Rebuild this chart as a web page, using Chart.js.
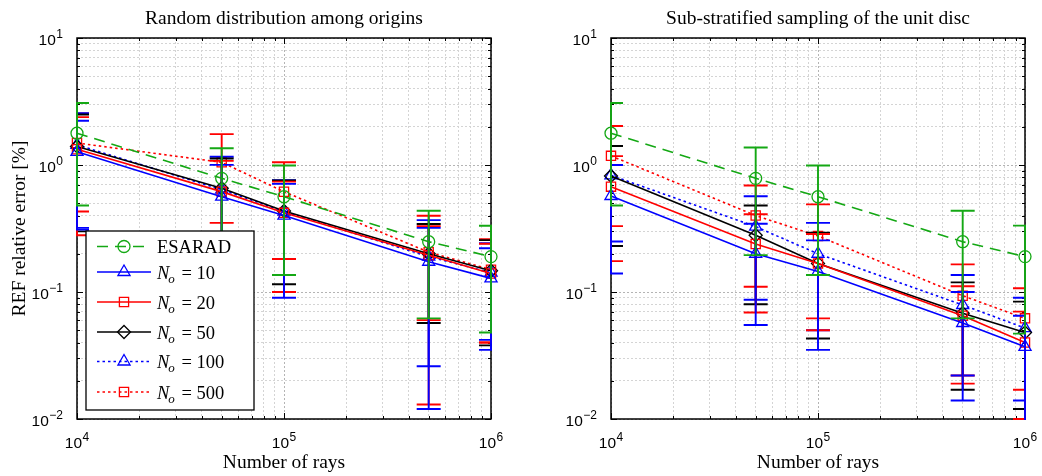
<!DOCTYPE html>
<html>
<head>
<meta charset="utf-8">
<script src="https://cdn.jsdelivr.net/npm/chart.js@4.4.0/dist/chart.umd.min.js"></script>
<style>
  html, body { margin: 0; padding: 0; background: #fff; }
  body { width: 1042px; height: 476px; position: relative; overflow: hidden; }
  canvas { position: absolute; top: 0; }
  #randomChart { left: 0; }
  #stratChart { left: 534px; }
</style>
</head>
<body>
<canvas id="randomChart" width="520" height="476"></canvas>
<canvas id="stratChart" width="508" height="476"></canvas>
<script>
/* ============ DATA ============ */
const rayCounts = [1e4, 5e4, 1e5, 5e5, 1e6];
const originCounts = [10, 20, 50, 100, 500];

// decade ticks, labels written as base + exponent
const xMajor = [1e4, 1e5, 1e6];
const xTickLabels = [['10', '4'], ['10', '5'], ['10', '6']];
const yMajor = [0.01, 0.1, 1, 10];
const yTickLabels = [['10', '\u22122'], ['10', '\u22121'], ['10', '0'], ['10', '1']];
const minorSteps = [2, 3, 4, 5, 6, 7, 8, 9];

// random distribution among origins: mean error [%] and standard deviation
const randomEsarad    = [1.78, 0.785, 0.563, 0.249, 0.19];
const randomEsaradErr = [1.30, 0.57, 0.427, 0.187, 0.142];
const randomN10       = [1.27, 0.563, 0.40, 0.173, 0.128];
const randomN10Err    = [0.96, 0.44, 0.31, 0.147, 0.093];
const randomN20       = [1.33, 0.617, 0.42, 0.195, 0.14];
const randomN20Err    = [1.05, 0.46, 0.32, 0.135, 0.10];
const randomN50       = [1.40, 0.656, 0.435, 0.20, 0.147];
const randomN50Err    = [1.10, 0.47, 0.32, 0.143, 0.109];
const randomN100      = [1.44, 0.64, 0.43, 0.19, 0.142];
const randomN100Err   = [1.12, 0.52, 0.33, 0.178, 0.10];
const randomN500      = [1.49, 1.05, 0.616, 0.206, 0.15];
const randomN500Err   = [1.06, 0.70, 0.434, 0.193, 0.11];

// sub-stratified sampling of the unit disc
const stratEsarad     = [1.78, 0.785, 0.563, 0.249, 0.19];
const stratEsaradErr  = [1.30, 0.59, 0.427, 0.187, 0.143];
const stratN10        = [0.57, 0.20, 0.145, 0.057, 0.037];
const stratN10Err     = [0.43, 0.145, 0.11, 0.043, 0.028];
const stratN20        = [0.675, 0.239, 0.168, 0.065, 0.04];
const stratN20Err     = [0.50, 0.17, 0.118, 0.046, 0.03];
const stratN50        = [0.82, 0.28, 0.168, 0.068, 0.048];
const stratN50Err     = [0.59, 0.20, 0.125, 0.051, 0.036];
const stratN100       = [0.83, 0.327, 0.20, 0.079, 0.052];
const stratN100Err    = [0.58, 0.24, 0.15, 0.057, 0.038];
const stratN500       = [1.18, 0.40, 0.276, 0.0935, 0.062];
const stratN500Err    = [0.85, 0.29, 0.214, 0.0715, 0.045];

/* ============ STYLE ============ */
const serif = "'Liberation Serif', 'DejaVu Serif', serif";
const sans = "'Liberation Sans', Arial, sans-serif";

const seriesStyles = [
  { color: '#14a814', dash: [11, 7], point: 'circle', radius: 6 },
  { color: '#0000ff', dash: [], point: 'triangle', radius: 7 },
  { color: '#ff0000', dash: [], point: 'rect', radius: 6.5 },
  { color: '#000000', dash: [], point: 'rectRot', radius: 6.5 },
  { color: '#0000ff', dash: [2.5, 3], point: 'triangle', radius: 7 },
  { color: '#ff0000', dash: [2.5, 3], point: 'rect', radius: 6.5 }
];

function logTicks(majors) {
  const out = [];
  majors.forEach((m, i) => {
    out.push({ value: m, major: true });
    if (i < majors.length - 1) minorSteps.forEach(s => out.push({ value: m * s, major: false }));
  });
  return out;
}

function makeDatasets(means, errs) {
  return means.map((m, k) => ({
    label: k === 0 ? 'ESARAD' : 'N\u2092 = ' + originCounts[k - 1],
    data: rayCounts.map((r, i) => ({ x: r, y: m[i] })),
    errors: errs[k],
    borderColor: seriesStyles[k].color,
    borderWidth: 1.6,
    borderDash: seriesStyles[k].dash,
    backgroundColor: 'transparent',
    pointStyle: seriesStyles[k].point,
    pointRadius: seriesStyles[k].radius,
    pointBorderWidth: 1.3,
    pointBorderColor: seriesStyles[k].color,
    pointBackgroundColor: 'transparent',
    tension: 0,
    fill: false,
    clip: false
  }));
}

/* ============ PLUGINS ============ */
const capHalf = 12;

// vertical error bars with caps, clipped to the axes box
const errorBars = {
  id: 'errorBars',
  afterDatasetDraw(chart, args) {
    const ds = chart.data.datasets[args.index];
    const { ctx, chartArea: a, scales: { x, y } } = chart;
    ctx.save();
    ctx.beginPath();
    ctx.rect(a.left - 1, a.top - 1, a.right - a.left + 2, a.bottom - a.top + 2);
    ctx.clip();
    ctx.strokeStyle = ds.borderColor;
    ctx.lineWidth = 1.9;
    ctx.setLineDash([]);
    ds.data.forEach((p, i) => {
      const e = ds.errors[i];
      const px = x.getPixelForValue(p.x);
      const top = y.getPixelForValue(p.y + e);
      const low = p.y - e;
      const bottom = low > 0 ? y.getPixelForValue(low) : a.bottom + 10;
      ctx.beginPath();
      ctx.moveTo(px, top);
      ctx.lineTo(px, bottom);
      ctx.moveTo(px - capHalf, top);
      ctx.lineTo(px + capHalf, top);
      if (low > 0) {
        ctx.moveTo(px - capHalf, bottom);
        ctx.lineTo(px + capHalf, bottom);
      }
      ctx.stroke();
    });
    ctx.restore();
  }
};

// black box with inward tick marks on all four sides
const axesBox = {
  id: 'axesBox',
  beforeDatasetsDraw(chart) {
    const { ctx, chartArea: a, scales: { x, y } } = chart;
    ctx.save();
    ctx.strokeStyle = '#000';
    ctx.setLineDash([]);
    ctx.lineWidth = 1;
    ctx.beginPath();
    x.ticks.forEach(t => {
      const px = Math.round(x.getPixelForValue(t.value)) + 0.5;
      const len = t.major ? 6 : 3;
      ctx.moveTo(px, a.bottom); ctx.lineTo(px, a.bottom - len);
      ctx.moveTo(px, a.top); ctx.lineTo(px, a.top + len);
    });
    y.ticks.forEach(t => {
      const py = Math.round(y.getPixelForValue(t.value)) + 0.5;
      const len = t.major ? 6 : 3;
      ctx.moveTo(a.left, py); ctx.lineTo(a.left + len, py);
      ctx.moveTo(a.right, py); ctx.lineTo(a.right - len, py);
    });
    ctx.stroke();
    ctx.lineWidth = 1.5;
    ctx.strokeRect(a.left, a.top, a.right - a.left, a.bottom - a.top);
    ctx.restore();
  }
};

// decade labels as 10 with a raised exponent
const powerLabels = {
  id: 'powerLabels',
  afterDraw(chart) {
    const { ctx, chartArea: a, scales: { x, y } } = chart;
    const baseFont = '15.5px ' + sans, expFont = '12px ' + sans;
    const widths = ([b, e]) => {
      ctx.font = baseFont;
      const wb = ctx.measureText(b).width;
      ctx.font = expFont;
      return [wb, ctx.measureText(e).width];
    };
    const put = ([b, e], left, base) => {
      const [wb] = widths([b, e]);
      ctx.font = baseFont;
      ctx.fillText(b, left, base);
      ctx.font = expFont;
      ctx.fillText(e, left + wb + 0.5, base - 7);
    };
    ctx.save();
    ctx.fillStyle = '#000';
    ctx.textBaseline = 'alphabetic';
    xMajor.forEach((v, i) => {
      const [wb, we] = widths(xTickLabels[i]);
      put(xTickLabels[i], x.getPixelForValue(v) - (wb + we + 0.5) / 2, a.bottom + 29);
    });
    yMajor.forEach((v, i) => {
      const [wb, we] = widths(yTickLabels[i]);
      put(yTickLabels[i], a.left - 14 - (wb + we + 0.5), y.getPixelForValue(v) + 7);
    });
    ctx.restore();
  }
};

// boxed legend with line samples and N_o labels
const legendRows = [15.5, 41, 71, 101, 130.5, 161];
const boxLegend = {
  id: 'boxLegend',
  afterDraw(chart) {
    const { ctx, chartArea: a } = chart;
    const bx = a.left + 9, by = 231, bw = 168, bh = 179;
    ctx.save();
    ctx.fillStyle = '#fff';
    ctx.fillRect(bx, by, bw, bh);
    ctx.strokeStyle = '#000';
    ctx.lineWidth = 1.3;
    ctx.setLineDash([]);
    ctx.strokeRect(bx, by, bw, bh);
    chart.data.datasets.forEach((ds, k) => {
      const st = seriesStyles[k];
      const ly = by + legendRows[k];
      ctx.strokeStyle = st.color;
      ctx.lineWidth = 1.4;
      ctx.setLineDash(st.dash);
      ctx.beginPath();
      ctx.moveTo(bx + 11, ly);
      ctx.lineTo(bx + 65, ly);
      ctx.stroke();
      ctx.setLineDash([]);
      ctx.fillStyle = 'transparent';
      ctx.lineWidth = 1.3;
      Chart.helpers.drawPoint(ctx, { pointStyle: st.point, radius: st.radius, borderWidth: 1.3, rotation: 0 }, bx + 38, ly);
      ctx.fillStyle = '#000';
      ctx.textBaseline = 'alphabetic';
      const tx = bx + 71, base = ly + 6.5;
      if (k === 0) {
        ctx.font = '18.5px ' + serif;
        ctx.fillText('ESARAD', tx, base);
      } else {
        ctx.font = 'italic 18.5px ' + serif;
        ctx.fillText('N', tx, base);
        let w = ctx.measureText('N').width;
        ctx.font = 'italic 13px ' + serif;
        ctx.fillText('o', tx + w - 1, base + 4);
        w += ctx.measureText('o').width + 1;
        ctx.font = '18.5px ' + serif;
        ctx.fillText(' = ' + originCounts[k - 1], tx + w, base);
      }
    });
    ctx.restore();
  }
};

/* ============ CHARTS ============ */
const gridColor = c => (c.tick && c.tick.major) ? '#b4b4b4' : '#d4d4d4';

function scaleOptions(showYTitle) {
  return {
    x: {
      type: 'logarithmic', min: 1e4, max: 1e6,
      afterBuildTicks: s => { s.ticks = logTicks(xMajor); },
      afterFit: s => { s.height = 57; },
      ticks: { display: false, autoSkip: false },
      grid: { drawTicks: false, lineWidth: 1, color: gridColor },
      border: { display: false, dash: [2, 2] },
      title: { display: true, text: 'Number of rays', color: '#000', font: { family: serif, size: 19.5 }, padding: { top: 0, bottom: 1.4 } }
    },
    y: {
      type: 'logarithmic', min: 0.01, max: 10,
      afterBuildTicks: s => { s.ticks = logTicks(yMajor); },
      afterFit: s => { s.width = 77; },
      ticks: { display: false, autoSkip: false },
      grid: { drawTicks: false, lineWidth: 1, color: gridColor },
      border: { display: false, dash: [2, 2] },
      title: { display: showYTitle, text: 'REF relative error [%]', color: '#000', font: { family: serif, size: 19.5 }, padding: { top: 7.8, bottom: 0 } }
    }
  };
}

function makeChart(id, titleText, means, errs, rightPad, plugins, showYTitle) {
  return new Chart(document.getElementById(id), {
    type: 'line',
    data: { datasets: makeDatasets(means, errs) },
    options: {
      responsive: false,
      animation: false,
      layout: { padding: { left: 0, right: rightPad, top: 0, bottom: 0 } },
      plugins: {
        legend: { display: false },
        tooltip: { enabled: false },
        title: {
          display: true, text: titleText, fullSize: false, color: '#000',
          font: { family: serif, size: 19.5, weight: 'normal' },
          padding: { top: 7.3, bottom: 7.3 }
        }
      },
      scales: scaleOptions(showYTitle)
    },
    plugins: plugins
  });
}

makeChart('randomChart', 'Random distribution among origins',
  [randomEsarad, randomN10, randomN20, randomN50, randomN100, randomN500],
  [randomEsaradErr, randomN10Err, randomN20Err, randomN50Err, randomN100Err, randomN500Err],
  29, [axesBox, errorBars, powerLabels, boxLegend], true);

makeChart('stratChart', 'Sub-stratified sampling of the unit disc',
  [stratEsarad, stratN10, stratN20, stratN50, stratN100, stratN500],
  [stratEsaradErr, stratN10Err, stratN20Err, stratN50Err, stratN100Err, stratN500Err],
  17, [axesBox, errorBars, powerLabels], false);
</script>
</body>
</html>
